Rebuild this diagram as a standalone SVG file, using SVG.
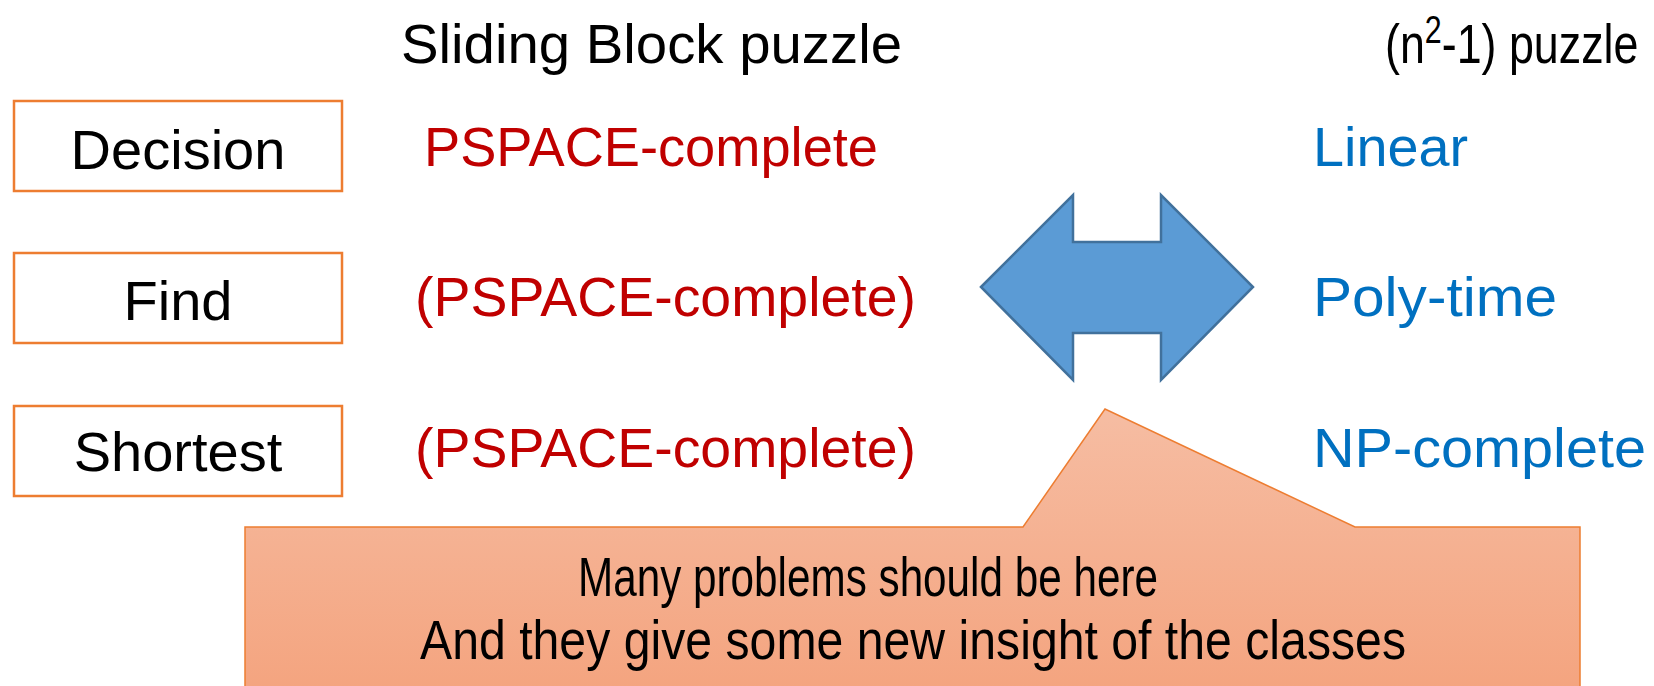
<svg xmlns="http://www.w3.org/2000/svg" width="1654" height="686" viewBox="0 0 1654 686">
<style>
text{font-family:"Liberation Sans",Arial,sans-serif;font-size:56px}
.k{fill:#000}
.r{fill:#C00000}
.b{fill:#0070C0}
.box{fill:#fff;stroke:#ED7D31;stroke-width:2.5}
.m{text-anchor:middle}
</style>
<defs>
<linearGradient id="cg" x1="0" y1="0" x2="0" y2="1">
<stop offset="0" stop-color="#F6BDA3"/>
<stop offset="1" stop-color="#F4A47F"/>
</linearGradient>
</defs>
<rect width="1654" height="686" fill="#fff"/>
<text class="k" x="401" y="63" textLength="501" lengthAdjust="spacingAndGlyphs">Sliding Block puzzle</text>
<text class="k" transform="translate(1385,63) scale(0.8,1)" x="0" y="0">(n<tspan dy="-20" font-size="38">2</tspan><tspan dy="20">-1) puzzle</tspan></text>
<g id="decision"><rect class="box" x="14" y="101" width="328" height="90"/><text class="k m" x="178" y="169">Decision</text></g>
<g id="find"><rect class="box" x="14" y="253" width="328" height="90"/><text class="k m" x="178" y="320">Find</text></g>
<g id="shortest"><rect class="box" x="14" y="406" width="328" height="90"/><text class="k m" x="178" y="471">Shortest</text></g>
<g id="sliding-results">
<text class="r" x="424" y="166" textLength="454" lengthAdjust="spacingAndGlyphs">PSPACE-complete</text>
<text class="r" x="415" y="316" textLength="501" lengthAdjust="spacingAndGlyphs">(PSPACE-complete)</text>
<text class="r" x="415" y="467" textLength="501" lengthAdjust="spacingAndGlyphs">(PSPACE-complete)</text>
</g>
<g id="puzzle-results">
<text class="b" x="1313" y="166" textLength="155" lengthAdjust="spacingAndGlyphs">Linear</text>
<text class="b" x="1313" y="316" textLength="244" lengthAdjust="spacingAndGlyphs">Poly-time</text>
<text class="b" x="1313" y="467" textLength="333" lengthAdjust="spacingAndGlyphs">NP-complete</text>
</g>
<g id="connectors">
<polygon points="981,287 1073,195 1073,242 1161,242 1161,195 1253,287 1161,380 1161,333 1073,333 1073,380" fill="#5B9BD5" stroke="#41719C" stroke-width="2.5"/>
</g>
<g id="callout">
<path d="M245,527 L1023,527 L1105,409 L1355,527 L1580,527 L1580,690 L245,690 Z" fill="url(#cg)" stroke="#ED7D31" stroke-width="1.5"/>
<text class="k m" x="868" y="596" font-size="47" textLength="580" lengthAdjust="spacingAndGlyphs">Many problems should be here</text>
<text class="k m" x="913" y="659" font-size="47" textLength="986" lengthAdjust="spacingAndGlyphs">And they give some new insight of the classes</text>
</g>
</svg>
